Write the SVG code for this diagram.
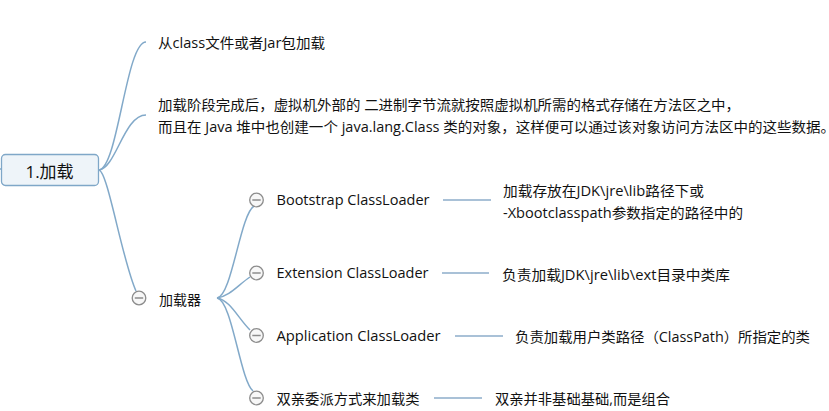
<svg xmlns="http://www.w3.org/2000/svg" width="829" height="411" viewBox="0 0 829 411">
<style>
text{font-family:"Open Sans","Noto Sans CJK SC",sans-serif;font-size:14px;fill:#111111}
.root{font-size:17px}
.con{fill:none;stroke:#82a9c9;stroke-width:1.5}
.hl{fill:none;stroke:#a9c1d7;stroke-width:2}
.tg circle{fill:#f7f7f7;stroke:#8c8c8c;stroke-width:1.3}
.tg line{stroke:#8c8c8c;stroke-width:1.5}
</style>
<defs>
<g id="tog" class="tg"><circle cx="0" cy="0" r="6.8"/><line x1="-4.2" y1="0" x2="4.2" y2="0"/></g>
</defs>
<rect width="829" height="411" fill="#ffffff"/>
<g id="connectors">
<path class="con" d="M0,169 L2,169"/>
<path class="con" d="M99,170 C118,168 126,42 146,42"/>
<path class="con" d="M99,170 C116,168 124,115 146,115"/>
<path class="con" d="M99,170 C108,172 122,260 136,291"/>
<path class="con" d="M217,298 C232,296 240,215 254,206"/>
<path class="con" d="M217,298 C230,296 238,285 250,277"/>
<path class="con" d="M217,298 C230,300 238,318 250,330"/>
<path class="con" d="M217,298 C232,300 240,380 253,391"/>
<path class="hl" d="M443,200 L491,200"/>
<path class="hl" d="M442,273 L489,273"/>
<path class="hl" d="M455,336 L503,336"/>
<path class="hl" d="M434,398 L482,398"/>
</g>
<g id="root">
<rect x="1.5" y="154.5" width="97" height="31" rx="4" fill="#eef4f9" stroke="#7fa7c8" stroke-width="1.3"/>
<text class="root" x="49.5" y="178" text-anchor="middle">1.加载</text>
</g>
<g id="n-source">
<text x="158" y="48" textLength="167" lengthAdjust="spacingAndGlyphs">从class文件或者Jar包加载</text>
</g>
<g id="n-desc">
<text x="158" y="110" textLength="582" lengthAdjust="spacingAndGlyphs">加载阶段完成后，虚拟机外部的 二进制字节流就按照虚拟机所需的格式存储在方法区之中，</text>
<text x="158" y="132" textLength="677" lengthAdjust="spacingAndGlyphs">而且在 Java 堆中也创建一个 java.lang.Class 类的对象，这样便可以通过该对象访问方法区中的这些数据。</text>
</g>
<g id="n-loader">
<use href="#tog" x="139" y="298"/>
<text x="159" y="305" textLength="42" lengthAdjust="spacingAndGlyphs">加载器</text>
</g>
<g id="n-bootstrap">
<use href="#tog" x="256.5" y="200"/>
<text x="276.5" y="205" textLength="153" lengthAdjust="spacingAndGlyphs">Bootstrap ClassLoader</text>
</g>
<g id="n-bootstrap-note">
<text x="503" y="195.5" textLength="201" lengthAdjust="spacingAndGlyphs">加载存放在JDK\jre\lib路径下或</text>
<text x="503" y="217.5" textLength="240" lengthAdjust="spacingAndGlyphs">-Xbootclasspath参数指定的路径中的</text>
</g>
<g id="n-extension">
<use href="#tog" x="256.5" y="273"/>
<text x="276.5" y="278" textLength="152" lengthAdjust="spacingAndGlyphs">Extension ClassLoader</text>
</g>
<g id="n-extension-note">
<text x="502" y="280" textLength="228" lengthAdjust="spacingAndGlyphs">负责加载JDK\jre\lib\ext目录中类库</text>
</g>
<g id="n-application">
<use href="#tog" x="256.5" y="335.5"/>
<text x="276.5" y="341" textLength="164" lengthAdjust="spacingAndGlyphs">Application ClassLoader</text>
</g>
<g id="n-application-note">
<text x="515" y="342" textLength="295" lengthAdjust="spacingAndGlyphs">负责加载用户类路径（ClassPath）所指定的类</text>
</g>
<g id="n-parent">
<use href="#tog" x="256.5" y="398"/>
<text x="276.5" y="403.5" textLength="143" lengthAdjust="spacingAndGlyphs">双亲委派方式来加载类</text>
</g>
<g id="n-parent-note">
<text x="495" y="403.5" textLength="175" lengthAdjust="spacingAndGlyphs">双亲并非基础基础,而是组合</text>
</g>
</svg>
